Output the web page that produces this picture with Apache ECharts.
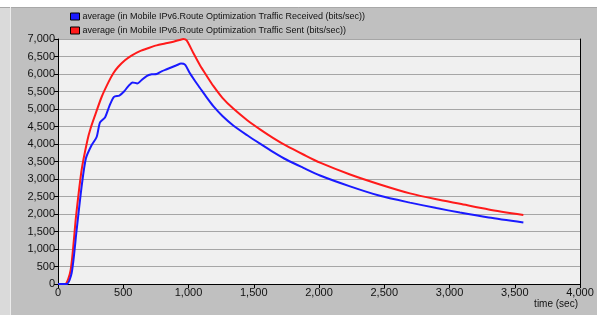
<!DOCTYPE html>
<html>
<head>
<meta charset="utf-8">
<script src="https://cdn.jsdelivr.net/npm/echarts@6/dist/echarts.min.js"></script>
<style>
html,body{margin:0;padding:0;background:#ffffff;}
#chart{width:597px;height:315px;}
</style>
</head>
<body>
<div id="chart"></div>
<script>
var receivedName = 'average (in Mobile IPv6.Route Optimization Traffic Received (bits/sec))';
var sentName = 'average (in Mobile IPv6.Route Optimization Traffic Sent (bits/sec))';

var receivedTime = [0, 66, 105, 143, 181, 214, 258, 296, 322, 360, 393, 429, 470, 506, 539, 572, 608, 641, 679, 718, 756, 794, 833, 871, 909, 943, 973, 1011, 1050, 1088, 1139, 1190, 1260, 1343, 1450, 1548, 1650, 1752, 1880, 2008, 2238, 2467, 2697, 2900, 3080, 3300, 3566];
var receivedValue = [0, 0, 320, 1550, 2780, 3590, 3970, 4200, 4620, 4760, 5077, 5346, 5385, 5500, 5654, 5760, 5731, 5827, 5942, 5990, 6000, 6077, 6135, 6192, 6250, 6298, 6270, 6020, 5800, 5600, 5330, 5080, 4800, 4530, 4250, 4010, 3770, 3550, 3320, 3100, 2790, 2520, 2325, 2170, 2040, 1900, 1760];

var sentTime = [0, 54, 97, 138, 181, 225, 250, 284, 335, 386, 424, 460, 513, 560, 628, 700, 756, 820, 884, 930, 960, 986, 1037, 1088, 1139, 1190, 1260, 1343, 1450, 1548, 1650, 1752, 1880, 2008, 2238, 2467, 2697, 2900, 3080, 3300, 3566];
var sentValue = [0, 0, 400, 1923, 3257, 4100, 4450, 4820, 5350, 5760, 6020, 6200, 6390, 6520, 6654, 6750, 6817, 6870, 6923, 6970, 7000, 6960, 6600, 6250, 5950, 5660, 5320, 5011, 4680, 4420, 4170, 3945, 3700, 3467, 3130, 2845, 2590, 2420, 2290, 2130, 1970];

var xTicks = [0, 500, 1000, 1500, 2000, 2500, 3000, 3500, 4000];
var yTicks = [0, 500, 1000, 1500, 2000, 2500, 3000, 3500, 4000, 4500, 5000, 5500, 6000, 6500, 7000];

function pairs(ts, vs) { return ts.map(function (t, i) { return [t, vs[i]]; }); }
function fmt(v) { return v.toLocaleString('en-US'); }

var chart = echarts.init(document.getElementById('chart'), null, {renderer: 'canvas'});
var font = 'Liberation Sans, Arial, sans-serif';
chart.setOption({
  animation: false,
  backgroundColor: '#ffffff',
  graphic: [
    {type: 'rect', z: -10, shape: {x: 0, y: 7, width: 10, height: 308}, style: {fill: '#dadada'}},
    {type: 'rect', z: -10, shape: {x: 10, y: 7, width: 587, height: 308}, style: {fill: '#c0c0c0'}},
    {type: 'line', z: -9, shape: {x1: 0, y1: 7.5, x2: 597, y2: 7.5}, style: {stroke: '#a8a8a8', lineWidth: 1}},
    {type: 'line', z: -9, shape: {x1: 10.5, y1: 7, x2: 10.5, y2: 315}, style: {stroke: '#ececec', lineWidth: 1}},
    {type: 'text', right: 19, top: 299, style: {text: 'time (sec)', font: '10px ' + font, fill: '#111'}}
  ],
  legend: {
    orient: 'vertical', left: 70, top: 12, padding: 0, itemGap: 5,
    itemWidth: 9, itemHeight: 7, icon: 'rect',
    itemStyle: {borderColor: '#000', borderWidth: 1},
    textStyle: {fontSize: 9, fontFamily: font, color: '#111', padding: [0, 0, 0, -2]},
    data: [receivedName, sentName]
  },
  grid: {left: 58, right: 17, top: 39, bottom: 31, show: true, backgroundColor: '#f0f0f0', borderWidth: 0},
  xAxis: {
    type: 'value', min: 0, max: 4000, interval: 500,
    axisLine: {show: true, lineStyle: {color: '#000', width: 1}},
    axisTick: {show: true, length: 4, lineStyle: {color: '#000'}},
    splitLine: {show: false},
    axisLabel: {fontSize: 11, fontFamily: font, color: '#111', margin: 3,
      formatter: function (v) { return xTicks.indexOf(v) >= 0 ? fmt(v) : ''; }}
  },
  yAxis: [{
    type: 'value', min: 0, max: 7000, interval: 500,
    axisLine: {show: true, lineStyle: {color: '#000', width: 1}},
    axisTick: {show: true, length: 4, lineStyle: {color: '#000'}},
    splitLine: {show: true, lineStyle: {color: '#a6a6a6', width: 1}},
    axisLabel: {fontSize: 11, fontFamily: font, color: '#111', margin: 3,
      formatter: function (v) { return yTicks.indexOf(v) >= 0 ? fmt(v) : ''; }}
  }, {
    type: 'value', min: 0, max: 7000, interval: 500, position: 'right',
    axisLine: {show: true, lineStyle: {color: '#000', width: 1}},
    axisTick: {show: false}, axisLabel: {show: false}, splitLine: {show: false}
  }],
  series: [{
    name: receivedName, type: 'line', data: pairs(receivedTime, receivedValue),
    showSymbol: false, symbol: 'none', smooth: 0.25,
    itemStyle: {color: '#1a1aff'}, lineStyle: {color: '#1a1aff', width: 2}, z: 3
  }, {
    name: sentName, type: 'line', data: pairs(sentTime, sentValue),
    showSymbol: false, symbol: 'none', smooth: 0.25,
    itemStyle: {color: '#ff1a1a'}, lineStyle: {color: '#ff1a1a', width: 2}, z: 2
  }]
});
</script>
</body>
</html>
